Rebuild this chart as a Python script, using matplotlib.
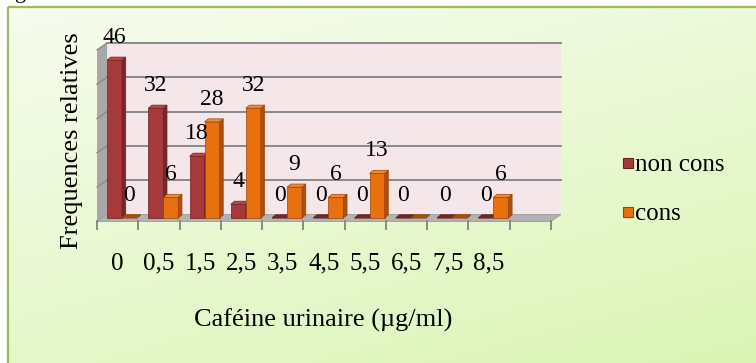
import numpy as np
import matplotlib.pyplot as plt
from matplotlib.patches import Polygon, Rectangle

plt.rcParams['font.family'] = ['Liberation Serif', 'DejaVu Serif']

categories = ["0", "0,5", "1,5", "2,5", "3,5", "4,5", "5,5", "6,5", "7,5", "8,5"]
non_cons = [46, 32, 18, 4, 0, 0, 0, 0, 0, 0]
cons = [0, 6, 28, 32, 9, 6, 13, 0, 0, 6]
cons_labelled = [True, True, True, True, True, True, True, False, False, True]
series_names = ["non cons", "cons"]

n_slots = len(categories) + 1      # an empty slot is left at the right end
y_max = 50
grid_step = 10

# pseudo 3D geometry, in category / value units
dx, dy = 0.121, 1.0        # half depth of the floor
bar_w = 0.363
bar_dx, bar_dy = 0.09, 0.9  # depth of a single column

red = dict(front="#a63a3b", side="#7a2727", top="#b94a4a", edge="#6a2020")
orange = dict(front="#e8700e", side="#ad4f0a", top="#f08a36", edge="#9c4308")

fig = plt.figure(figsize=(7.56, 3.63), dpi=100)

# green gradient frame behind everything
bg = fig.add_axes([0, 0, 1, 1], zorder=-10)
yy, xx = np.mgrid[0:1:200j, 0:1:400j]
t = 0.65 * yy + 0.35 * xx
c0 = np.array([0.97, 0.99, 0.94])
c1 = np.array([0.86, 0.96, 0.71])
img = c0 + (c1 - c0) * t[..., None]
bg.imshow(img, extent=[0, 1, 0, 1], aspect="auto", origin="upper")
fl, ft = 8 / 756, 1 - 7 / 363
bg.add_patch(Rectangle((0, 0), fl, 1, color="white", lw=0))
bg.add_patch(Rectangle((0, ft), 1, 1 - ft, color="white", lw=0))
bg.plot([fl, fl], [0, ft], color="#9bbb59", lw=1.6, solid_capstyle="butt")
bg.plot([fl, 1], [ft, ft], color="#9bbb59", lw=1.6, solid_capstyle="butt")
bg.set_xlim(0, 1)
bg.set_ylim(0, 1)
bg.axis("off")
fig.text(21 / 756, 1 + 1.5 / 363, "g", ha="center", va="baseline", fontsize=16)

ax = fig.add_axes([81.4 / 756, 131.3 / 363, 495.2 / 756, 192.1 / 363])
ax.set_xlim(-0.5, n_slots + 0.5)
ax.set_ylim(-4, 52)
ax.axis("off")

# walls and floor
ax.add_patch(Rectangle((dx, dy), n_slots, y_max, fc="#f4e6e9", ec="none", zorder=1))
ax.add_patch(Polygon([(-dx, -dy), (dx, dy), (dx, y_max + dy), (-dx, y_max - dy)],
                     fc="#a8a8a8", ec="none", zorder=1))
ax.add_patch(Polygon([(-dx, -dy), (n_slots - dx, -dy), (n_slots + dx, dy), (dx, dy)],
                     fc="#b2b2b2", ec="#9a9a9a", lw=0.6, zorder=2))

for v in range(grid_step, y_max + 1, grid_step):
    ax.plot([dx, n_slots + dx], [v + dy, v + dy], color="#8a8a8a", lw=1.4, zorder=2)
    ax.plot([-dx, dx], [v - dy, v + dy], color="#8a8a8a", lw=1.0, zorder=2)

for i in range(n_slots + 1):
    ax.plot([i - dx, i - dx], [-dy, -dy - 2.3], color="#8a8a8a", lw=1.4, zorder=2)


def column(x0, h, c, z):
    if h > 0:
        ax.bar(x0, h, width=bar_w, align="edge", color=c["front"],
               edgecolor=c["edge"], lw=0.5, zorder=z)
        ax.add_patch(Polygon([(x0 + bar_w, 0), (x0 + bar_w + bar_dx, bar_dy),
                              (x0 + bar_w + bar_dx, h + bar_dy), (x0 + bar_w, h)],
                             fc=c["side"], ec=c["edge"], lw=0.5, zorder=z))
        ax.add_patch(Polygon([(x0, h), (x0 + bar_w, h), (x0 + bar_w + bar_dx, h + bar_dy),
                              (x0 + bar_dx, h + bar_dy)],
                             fc=c["top"], ec=c["edge"], lw=0.5, zorder=z))
    else:
        ax.add_patch(Polygon([(x0, 0), (x0 + bar_w, 0), (x0 + bar_w + bar_dx, bar_dy),
                              (x0 + bar_dx, bar_dy)],
                             fc=c["side"], ec=c["edge"], lw=0.8, zorder=z))


for i in range(len(categories)):
    x_red = i + dx
    x_org = x_red + bar_w
    column(x_red, non_cons[i], red, 3 + 2 * i)
    column(x_org, cons[i], orange, 4 + 2 * i)
    ax.annotate(str(non_cons[i]), (x_red + bar_w / 2, non_cons[i]), xytext=(0, 16.5),
                textcoords="offset points", ha="center", va="center", fontsize=17,
                zorder=50)
    if cons_labelled[i]:
        ax.annotate(str(cons[i]), (x_org + bar_w / 2, cons[i]), xytext=(0, 16.5),
                    textcoords="offset points", ha="center", va="center", fontsize=17,
                    zorder=50)
    ax.text(i + 0.5 - dx, -13.4, categories[i], ha="center", va="center", fontsize=18)

fig.text(323 / 756, 1 - 320 / 363, "Caféine urinaire (µg/ml)", ha="center", va="center",
         fontsize=19)
fig.text(72 / 756, 1 - 141 / 363, "Frequences relatives", ha="center", va="center",
         rotation=90, fontsize=19)

# legend
for name, c, yc in [(series_names[0], red, 163), (series_names[1], orange, 212)]:
    fig.patches.append(Rectangle((623 / 756, 1 - (yc + 5) / 363), 10 / 756, 10 / 363,
                                 fc=c["front"], ec=c["edge"], lw=0.8,
                                 transform=fig.transFigure))
    fig.text(635 / 756, 1 - (yc + 2) / 363, name, ha="left", va="center", fontsize=18)

fig.savefig("out.png", dpi=100)
